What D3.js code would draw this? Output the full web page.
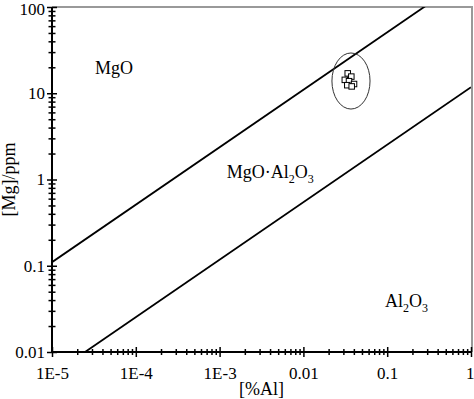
<!DOCTYPE html>
<html>
<head>
<meta charset="utf-8">
<script src="https://cdn.jsdelivr.net/npm/d3@7"></script>
<style>
  body { margin: 0; background: #fff; }
  svg { display: block; font-family: 'Liberation Serif', 'Times New Roman', serif; }
</style>
</head>
<body>
<div class="chart"></div>
<script>
'use strict'

const width = 474,
  height = 399;
const margin = {top: 7, right: 3, bottom: 47, left: 52};

// axis ticks
const xTicks = [1e-5, 1e-4, 1e-3, 0.01, 0.1, 1];
const xTickLabels = ['1E-5', '1E-4', '1E-3', '0.01', '0.1', '1'];
const yTicks = [0.01, 0.1, 1, 10, 100];
const yTickLabels = ['0.01', '0.1', '1', '10', '100'];

// phase boundaries, [%Al, Mg ppm] end points
const upperBoundary = [[1e-5, 0.11], [1, 236]];
const lowerBoundary = [[1e-5, 0.00546], [1, 11.75]];

// measured samples
const sampleAl = [0.0338, 0.0373, 0.0312, 0.035, 0.0402, 0.0334, 0.0377];
const sampleMg = [17.0, 15.6, 14.3, 13.8, 12.8, 12.4, 12.0];

// ellipse around the samples: [al min, al max], [mg min, mg max]
const ringAl = [0.0219, 0.0624];
const ringMg = [6.56, 29.3];

// region labels: text parts, anchor [%Al, Mg]
const regions = [
  {parts: [['MgO', false]], at: [3.26e-5, 16.7]},
  {parts: [['MgO·Al', false], ['2', true], ['O', false], ['3', true]], at: [1.22e-3, 1.04]},
  {parts: [['Al', false], ['2', true], ['O', false], ['3', true]], at: [0.094, 0.0333]}
];

const serif = "'Liberation Serif', 'Times New Roman', serif";

let svg = d3.select('.chart')
  .append('svg')
  .attr('width', width)
  .attr('height', height);

let x = d3.scaleLog()
  .domain([1e-5, 1])
  .range([margin.left, width - margin.right]);
let y = d3.scaleLog()
  .domain([0.01, 100])
  .range([height - margin.bottom, margin.top]);

let minors = d => {
  let out = [];
  for (let i = 0; i < d.length - 1; i++)
    for (let k = 2; k <= 9; k++) out.push(d[i] * k);
  return out;
};

svg.append('defs').append('clipPath')
  .attr('id', 'plot')
  .append('rect')
  .attr('x', x.range()[0])
  .attr('y', y.range()[1])
  .attr('width', x.range()[1] - x.range()[0])
  .attr('height', y.range()[0] - y.range()[1]);

// gray frame top and right
svg.append('path')
  .attr('d', `M${x.range()[0]},${y.range()[1]}H${x.range()[1] + 1}V${y.range()[0]}`)
  .attr('fill', 'none')
  .attr('stroke', '#999')
  .attr('stroke-width', 2);

// boundaries
let line = d3.line()
  .x(d => x(d[0]))
  .y(d => y(d[1]));
svg.append('g')
  .attr('clip-path', 'url(#plot)')
  .selectAll('path')
  .data([upperBoundary, lowerBoundary])
  .join('path')
  .attr('d', line)
  .attr('fill', 'none')
  .attr('stroke', '#000')
  .attr('stroke-width', 1.8);

// ring and samples
svg.append('ellipse')
  .attr('cx', (x(ringAl[0]) + x(ringAl[1])) / 2)
  .attr('cy', (y(ringMg[0]) + y(ringMg[1])) / 2)
  .attr('rx', (x(ringAl[1]) - x(ringAl[0])) / 2)
  .attr('ry', (y(ringMg[0]) - y(ringMg[1])) / 2)
  .attr('fill', 'none')
  .attr('stroke', '#333')
  .attr('stroke-width', 1);

const sq = 5.5;
svg.append('g')
  .selectAll('rect')
  .data(sampleAl.map((a, i) => [a, sampleMg[i]]))
  .join('rect')
  .attr('x', d => x(d[0]) - sq / 2)
  .attr('y', d => y(d[1]) - sq / 2)
  .attr('width', sq)
  .attr('height', sq)
  .attr('fill', '#fff')
  .attr('stroke', '#000')
  .attr('stroke-width', 1);

// axes, ticks cross the axis line
let xAxis = svg.append('g')
  .attr('transform', `translate(0,${y.range()[0]})`)
  .call(d3.axisBottom(x).tickValues(xTicks)
    .tickFormat((d, i) => xTickLabels[i]).tickSize(5).tickPadding(10));
xAxis.selectAll('.tick line').attr('y1', -5);
xAxis.selectAll('.tick text').filter(d => d === 1).attr('text-anchor', 'end').attr('dx', 3);
svg.append('g')
  .attr('transform', `translate(0,${y.range()[0]})`)
  .call(d3.axisBottom(x).tickValues(minors(xTicks)).tickFormat('').tickSize(3))
  .call(g => g.select('.domain').remove())
  .selectAll('.tick line').attr('y1', -3);

let yAxis = svg.append('g')
  .attr('transform', `translate(${x.range()[0]},0)`)
  .call(d3.axisLeft(y).tickValues(yTicks)
    .tickFormat((d, i) => yTickLabels[i]).tickSize(5).tickPadding(2));
yAxis.selectAll('.tick line').attr('x1', 5);
yAxis.selectAll('.tick text').filter(d => d === 100).attr('dy', '0.45em');
svg.append('g')
  .attr('transform', `translate(${x.range()[0]},0)`)
  .call(d3.axisLeft(y).tickValues(minors(yTicks)).tickFormat('').tickSize(3.5))
  .call(g => g.select('.domain').remove())
  .selectAll('.tick line').attr('x1', 3.5);

svg.selectAll('.domain')
  .attr('stroke-width', 2)
  .attr('d', function() {
    return d3.select(this.parentNode).attr('transform').includes(`,${y.range()[0]}`)
      ? `M${x.range()[0] - 1},0H${x.range()[1]}`
      : `M0,${y.range()[0] + 1}V${y.range()[1]}`;
  });
svg.selectAll('g').attr('font-family', serif).attr('font-size', 17);
svg.selectAll('.tick line').attr('stroke-width', 1.5);
svg.selectAll('.tick text')
  .attr('fill', '#000')
  .attr('font-family', serif)
  .attr('font-size', 17);

// axis titles
svg.append('text')
  .attr('x', (x.range()[0] + x.range()[1]) / 2)
  .attr('y', height - 4)
  .attr('text-anchor', 'middle')
  .attr('font-family', serif)
  .attr('font-size', 18)
  .text('[%Al]');
svg.append('text')
  .attr('transform', `translate(15,${(y.range()[0] + y.range()[1]) / 2})rotate(-90)`)
  .attr('text-anchor', 'middle')
  .attr('font-family', serif)
  .attr('font-size', 18)
  .text('[Mg]/ppm');

// region labels
regions.forEach(r => {
  let t = svg.append('text')
    .attr('x', x(r.at[0]))
    .attr('y', y(r.at[1]))
    .attr('font-family', serif)
    .attr('font-size', 18);
  let down = false;
  r.parts.forEach(p => {
    let dy = 0;
    if (p[1] && !down) { dy = 5; down = true; }
    else if (!p[1] && down) { dy = -5; down = false; }
    t.append('tspan')
      .attr('dy', dy)
      .attr('font-size', p[1] ? 12 : 18)
      .text(p[0]);
  });
});
</script>
</body>
</html>
